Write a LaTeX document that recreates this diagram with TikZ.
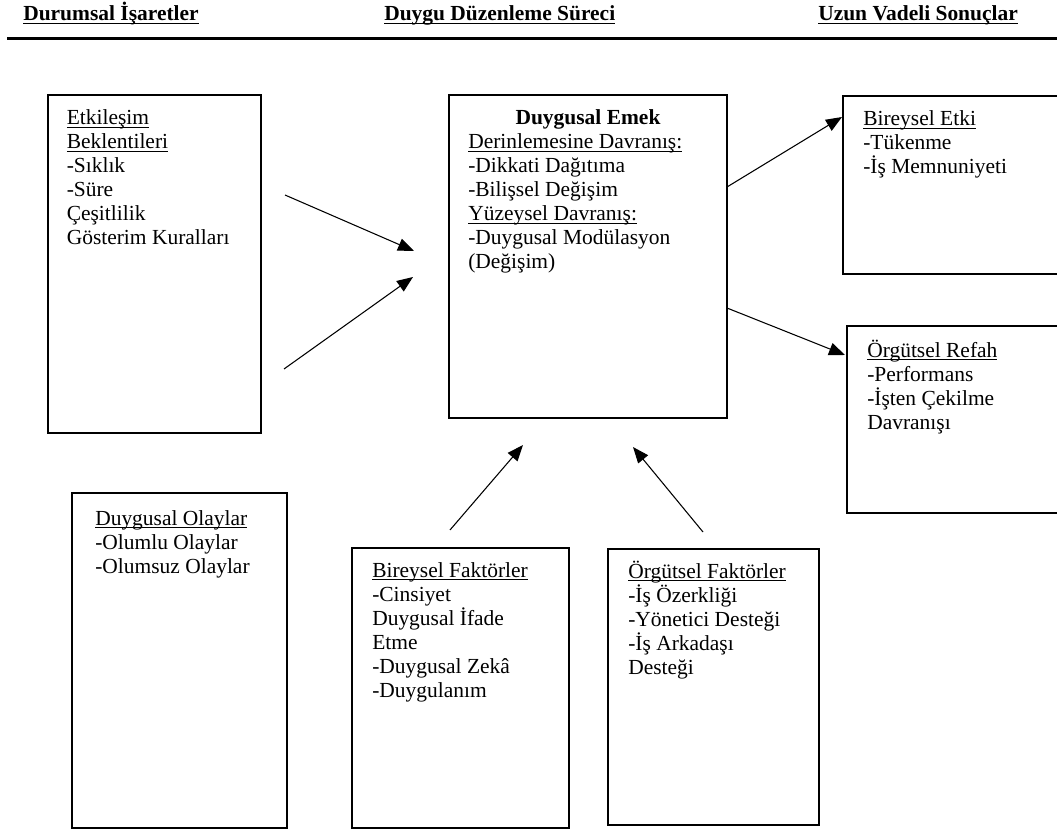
\documentclass[tikz,border=0pt]{standalone}
\usepackage{fontspec}
\setmainfont{Liberation Serif}
\usetikzlibrary{arrows.meta,fit}

% underline at a fixed depth below the baseline
\newcommand\ul[1]{\setbox0\hbox{#1}\rlap{\rule[-0.16em]{\wd0}{0.055em}}\box0}
% left-aligned block of lines; its baseline is the first line's baseline
\newcommand\lines[1]{\vtop{\baselineskip=18pt\halign{##\hfil\cr#1\crcr}}}

\tikzset{
  box/.style={draw=black, line width=1pt, inner sep=0pt},
  txt/.style={anchor=base west, inner sep=0pt, font=\fontsize{16.1pt}{18pt}\selectfont},
  head/.style={anchor=base west, inner sep=0pt, font=\fontsize{16.1pt}{18pt}\selectfont\bfseries},
  arr/.style={line width=0.8pt, -{Triangle[length=12pt,width=9.5pt]}}
}

\begin{document}
\begin{tikzpicture}[x=0.75pt, y=-0.75pt]
\clip (0,0) rectangle (1057,831);
\fill[white] (0,0) rectangle (1057,831);

% column headings and rule
\node[head] (h1) at (23,21) {\ul{Durumsal İşaretler}};
\node[head] (h2) at (384,21) {\ul{Duygu Düzenleme Süreci}};
\node[head] (h3) at (818,21) {\ul{Uzun Vadeli Sonuçlar}};
\coordinate (r1) at (7,38.5);
\coordinate (r2) at (1060,38.5);
\draw[line width=2pt] (r1) -- (r2);

% box corners
\coordinate (b1a) at (48,95);   \coordinate (b1b) at (261,433);
\coordinate (b2a) at (449,95);  \coordinate (b2b) at (727,418);
\coordinate (b3a) at (843,96);  \coordinate (b3b) at (1070,274);
\coordinate (b4a) at (847,326); \coordinate (b4b) at (1070,513);
\coordinate (b5a) at (72,493);  \coordinate (b5b) at (287,828);
\coordinate (b6a) at (352,548); \coordinate (b6b) at (569,828);
\coordinate (b7a) at (608,549); \coordinate (b7b) at (819,825);

\node[box, fit=(b1a)(b1b)] (etk) {};
\node[box, fit=(b2a)(b2b)] (emek) {};
\node[box, fit=(b3a)(b3b)] (betki) {};
\node[box, fit=(b4a)(b4b)] (refah) {};
\node[box, fit=(b5a)(b5b)] (olay) {};
\node[box, fit=(b6a)(b6b)] (bfak) {};
\node[box, fit=(b7a)(b7b)] (ofak) {};

% box texts
\node[txt] (etkT) at (66.5,125) {\lines{\ul{Etkileşim}\cr\ul{Beklentileri}\cr-Sıklık\cr-Süre\cr Çeşitlilik\cr Gösterim Kuralları}};
\node[txt, anchor=base, font=\fontsize{16.1pt}{18pt}\selectfont\bfseries] (emekH) at (588,125) {Duygusal Emek};
\node[txt] (emekT) at (468,148.5) {\lines{\ul{Derinlemesine Davranış:}\cr-Dikkati Dağıtıma\cr-Bilişsel Değişim\cr\ul{Yüzeysel Davranış:}\cr-Duygusal Modülasyon\cr(Değişim)}};
\node[txt] (betkiT) at (863,126) {\lines{\ul{Bireysel Etki}\cr-Tükenme\cr-İş Memnuniyeti}};
\node[txt] (refahT) at (867,357) {\lines{\ul{Örgütsel Refah}\cr-Performans\cr-İşten Çekilme\cr Davranışı}};
\node[txt] (olayT) at (95,525) {\lines{\ul{Duygusal Olaylar}\cr-Olumlu Olaylar\cr-Olumsuz Olaylar}};
\node[txt] (bfakT) at (372,577) {\lines{\ul{Bireysel Faktörler}\cr-Cinsiyet\cr Duygusal İfade\cr Etme\cr-Duygusal Zekâ\cr-Duygulanım}};
\node[txt] (ofakT) at (628,578) {\lines{\ul{Örgütsel Faktörler}\cr-İş Özerkliği\cr-Yönetici Desteği\cr-İş Arkadaşı\cr Desteği}};

% arrow end points
\coordinate (p1s) at (285,195); \coordinate (p1e) at (414,251);
\coordinate (p2s) at (284,369); \coordinate (p2e) at (413,277);
\coordinate (p3s) at (727,187); \coordinate (p3e) at (842,117);
\coordinate (p4s) at (727,308); \coordinate (p4e) at (845,355);
\coordinate (p5s) at (450,530); \coordinate (p5e) at (523,445);
\coordinate (p6s) at (703,532); \coordinate (p6e) at (633,447);

\draw[arr] (p1s) -- (p1e);
\draw[arr] (p2s) -- (p2e);
\draw[arr] (p3s) -- (p3e);
\draw[arr] (p4s) -- (p4e);
\draw[arr] (p5s) -- (p5e);
\draw[arr] (p6s) -- (p6e);
\end{tikzpicture}
\end{document}
